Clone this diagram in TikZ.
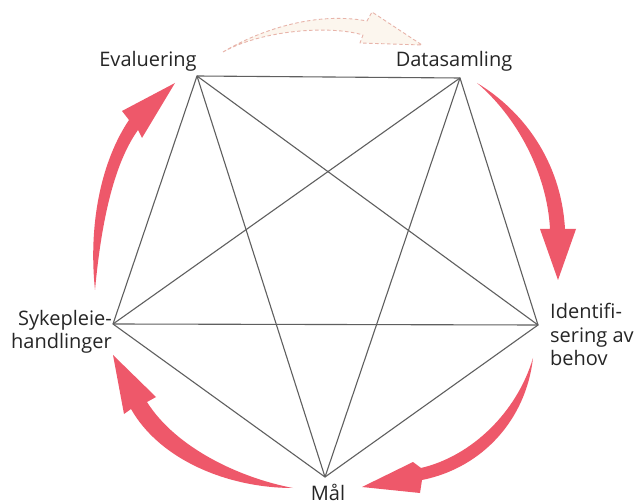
\documentclass[tikz,border=0pt]{standalone}
\usepackage{fontspec}
\setmainfont{Open Sans}
\definecolor{arrowred}{RGB}{238,88,106}
\definecolor{ghostfill}{RGB}{252,246,238}
\definecolor{ghostline}{RGB}{232,180,170}
\definecolor{edgegray}{RGB}{95,95,95}
\begin{document}
\begin{tikzpicture}[x=1pt,y=-1pt,
  edge/.style={draw=edgegray, line width=1.1pt},
  lbl/.style={font=\fontsize{20}{23.5}\selectfont, inner sep=0pt, text=black!85},
  cyc/.style={fill=arrowred, draw=none},
  ghost/.style={fill=ghostfill, draw=ghostline, line width=0.9pt, dash pattern=on 3.5pt off 2.5pt, line join=round}]
\useasboundingbox (0,0) rectangle (637,502);
\fill[white] (0,0) rectangle (637,502);

% vertices
\coordinate (E) at (197,76);
\coordinate (D) at (460,78);
\coordinate (I) at (538,325);
\coordinate (M) at (325,477);
\coordinate (S) at (113,324);

% pentagon and pentagram
\draw[edge] (E) -- (D) -- (I) -- (M) -- (S) -- cycle;
\draw[edge] (E) -- (I);
\draw[edge] (E) -- (M);
\draw[edge] (D) -- (S);
\draw[edge] (D) -- (M);
\draw[edge] (S) -- (I);

% labels
\node[lbl, anchor=base] (lE) at (148,67) {Evaluering};
\node[lbl, anchor=base] (lD) at (454,67) {Datasamling};
\node[lbl, anchor=north west, align=left] (lI) at (550,303) {Identifi-\\sering av\\behov};
\node[lbl, anchor=north east, align=right] (lS) at (112,310) {Sykepleie-\\handlinger};
\node[lbl, anchor=base] (lM) at (328,500) {Mål};

% ghost arrow (top, dashed)
\draw[ghost] (223,52) .. controls (265,27) and (320,12) .. (367,21)
  -- (372,12) -- (422,45) -- (360,43) -- (363,35)
  .. controls (330,25) and (262,30) .. (223,52) -- cycle;

% arrow Datasamling -> Identifisering
\fill[cyc] (477,83) .. controls (522,110) and (561,160) .. (565,229)
  -- (576,229) -- (558,280) -- (540,229) -- (550,229)
  .. controls (547,172) and (516,116) .. (477,83) -- cycle;

% arrow Identifisering -> Mal
\fill[cyc] (533,358) .. controls (526,420) and (482,468) .. (422,480)
  -- (420,493) -- (362,487) -- (413,462) -- (421,468)
  .. controls (472,456) and (517,412) .. (533,358) -- cycle;

% arrow Mal -> Sykepleiehandlinger
\fill[cyc] (293,488) .. controls (228,488) and (160,460) .. (131,409)
  -- (124,414) -- (113,355) -- (156,397) -- (147,402)
  .. controls (176,448) and (240,478) .. (293,488) -- cycle;

% arrow Sykepleiehandlinger -> Evaluering
\fill[cyc] (95,290) .. controls (88,222) and (102,160) .. (129,120)
  -- (122,111) -- (175,83) -- (142,138) -- (138,130)
  .. controls (113,165) and (101,225) .. (95,290) -- cycle;
\end{tikzpicture}
\end{document}
